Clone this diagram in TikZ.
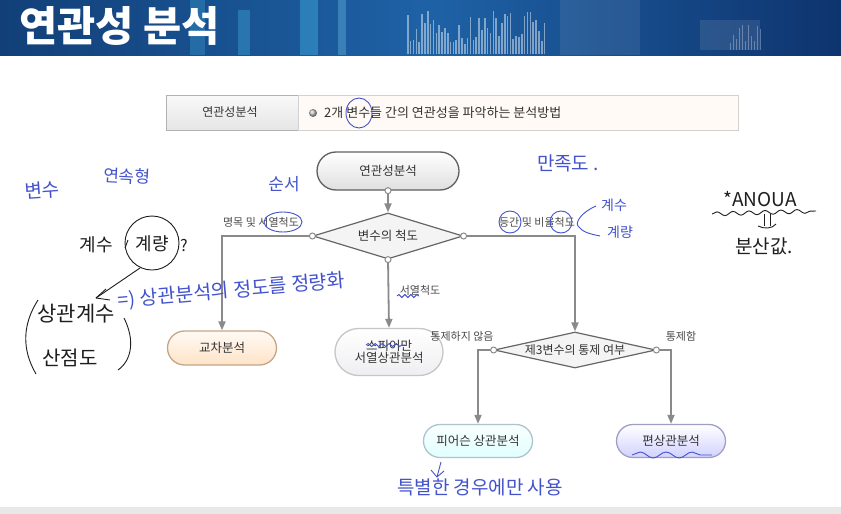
\documentclass[tikz,border=0pt]{standalone}
\usepackage{fontspec}
\setmainfont{Noto Sans CJK KR}
\newfontfamily\kr{Noto Sans CJK KR}
\usetikzlibrary{shapes.geometric,shapes.misc,arrows.meta,calc,decorations.pathmorphing}
\definecolor{banA}{HTML}{123F78}
\definecolor{banB}{HTML}{1E62A6}
\definecolor{banC}{HTML}{0E346E}
\definecolor{lgray}{HTML}{8A8A8C}
\definecolor{pen}{HTML}{4353CC}
\definecolor{ink}{HTML}{1E1E1E}
\tikzset{
  pill/.style={rounded rectangle, draw=#1, line width=1.3pt, inner sep=2pt, font=\kr\fontsize{12.5}{14}\selectfont, text=black!80},
  diam/.style={diamond, draw=gray!80!black, line width=1.2pt, fill=gray!9, inner sep=1pt, font=\kr\fontsize{12.5}{14}\selectfont, text=black!80},
  conn/.style={draw=lgray, line width=1.8pt, -{Triangle[length=9pt,width=7pt]}},
  dot/.style={circle, draw=lgray, fill=white, line width=1pt, inner sep=0pt, minimum size=6pt},
  lbl/.style={font=\kr\fontsize{11}{12}\selectfont, text=black!70, inner sep=1pt},
  blue/.style={text=pen, font=\kr\fontsize{#1}{#1}\selectfont, inner sep=0pt},
  blk/.style={text=ink, font=\kr\fontsize{#1}{#1}\selectfont, inner sep=0pt},
  bpen/.style={draw=pen, line width=0.9pt},
  kpen/.style={draw=ink, line width=0.9pt}
}
\begin{document}
\begin{tikzpicture}[x=1pt,y=-1pt]
\useasboundingbox (0,0) rectangle (841,514);
\fill[white] (0,0) rectangle (841,514);
% banner
\shade[left color=banA, right color=banB] (0,0) rectangle (430,55);
\shade[left color=banB, right color=banC] (430,0) rectangle (841,55);
\fill[cyan!70!white, opacity=.25] (190,0) rectangle (205,55);
\fill[cyan!70!white, opacity=.3] (238,10) rectangle (250,55);
\fill[cyan!70!white, opacity=.35] (300,0) rectangle (318,55);
\fill[cyan!50!white, opacity=.3] (338,0) rectangle (346,55);
\fill[white, opacity=.08] (560,0) rectangle (640,55);
\fill[white, opacity=.1] (700,20) rectangle (760,50);
\pgfmathsetseed{7}
\foreach \i in {0,...,48} {
  \pgfmathsetmacro\h{8+36*rnd}
  \fill[white, opacity=.45] (407+2.85*\i,54) rectangle ++(1.6,-\h);
}
\foreach \i in {0,...,10} {
  \pgfmathsetmacro\h{6+20*rnd}
  \fill[white, opacity=.3] (730+3*\i,50) rectangle ++(1,-\h);
}
\node[anchor=west, text=white, font=\kr\bfseries\fontsize{41.5}{44}\selectfont, inner sep=0pt] (title) at (19,26) {연관성 분석};
% bottom strip
\fill[gray!18] (0,507) rectangle (841,514);
% definition box
\shade[top color=gray!5, bottom color=gray!20, draw=gray!60, line width=1pt] (166,95) rectangle (298,130);
\fill[orange!4!white, draw=gray!35, line width=0.8pt] (298,95) rectangle (738,130);
\node[font=\kr\fontsize{12}{14}\selectfont, text=black!80] (defkey) at (230,112.5) {연관성분석};
\shade[ball color=gray!50] (313,113) circle (4);
\node[anchor=west, font=\kr\fontsize{13}{15}\selectfont, text=black!80, inner sep=0pt] (deftext) at (324,113) {2개 변수들 간의 연관성을 파악하는 분석방법};
% flow nodes
\node[pill=gray!75!black, top color=white, bottom color=gray!25, minimum width=146, minimum height=38] (start) at (388,171) {연관성분석};
\node[diam, aspect=3.3, minimum width=150, minimum height=46] (scale) at (388,236) {변수의 척도};
\node[pill=orange!35!gray!70, top color=orange!4!white, bottom color=orange!22!white, minimum width=113, minimum height=34] (cross) at (222,348) {교차분석};
\node[pill=gray!45, top color=white, bottom color=blue!8!gray!12, minimum width=112, minimum height=47, align=center] (spear) at (389,352) {스피어만\\[-2pt]서열상관분석};
\node[diam, aspect=4.6, minimum width=152, minimum height=36, font=\kr\fontsize{12}{13}\selectfont] (third) at (575,350) {제3변수의 통제 여부};
\node[pill=cyan!30!gray!60, top color=cyan!2!white, bottom color=cyan!12!white, minimum width=113, minimum height=33] (pear) at (478,441) {피어슨 상관분석};
\node[pill=blue!25!gray!60, top color=white, bottom color=blue!18!white, minimum width=113, minimum height=33] (partial) at (671,441) {편상관분석};
% connectors
\draw[conn] (start.south) -- (scale.north);
\draw[conn] (scale.west) -| (cross.north);
\draw[conn] (scale.east) -| (third.north);
\draw[conn] (scale.south) -- (spear.north);
\draw[conn] (third.west) -| (pear.north);
\draw[conn] (third.east) -| (partial.north);
\node[dot] (d1) at (start.south) {};
\node[dot] (d2) at (scale.west) {};
\node[dot] (d3) at (scale.east) {};
\node[dot] (d4) at (scale.south) {};
\node[dot] (d5) at (third.west) {};
\node[dot] (d6) at (third.east) {};
% labels
\node[lbl] (l1) at (261,222) {명목 및 서열척도};
\node[lbl] (l2) at (537,222) {등간 및 비율척도};
\node[lbl] (l3) at (420,290) {서열척도};
\node[lbl] (l4) at (462,336) {통제하지 않음};
\node[lbl] (l5) at (681,336) {통제함};
% blue handwriting
\draw[bpen] (359,113) ellipse (13 and 15);
\node[blue=19, rotate=4] (h1) at (42,190) {변수};
\node[blue=17, rotate=-3] (h2) at (127,176) {연속형};
\node[blue=19] (h3) at (568,163) {만족도 .};
\node[blue=17] (h4) at (284,184) {순서};
\draw[bpen] (283,222) ellipse (19 and 10);
\draw[bpen] (510,222) circle (11);
\draw[bpen] (561,222) circle (11);
\draw[bpen] (596,206) .. controls (582,212) and (575,222) .. (578,226) .. controls (582,232) and (590,234) .. (600,236);
\node[blue=14] (h5) at (614,205) {계수};
\node[blue=14] (h6) at (620,232) {계량};
\node[blue=19.5, rotate=5, anchor=west] (h7) at (118,301) {=) 상관분석의 정도를 정량화};
\draw[bpen, decorate, decoration={snake, amplitude=1.5pt, segment length=6pt}] (397,296) -- (419,296);
\draw[bpen, decorate, decoration={snake, amplitude=1.5pt, segment length=7pt}] (366,345) -- (405,345);
\draw[bpen, decorate, decoration={snake, amplitude=3pt, segment length=26pt}] (632,455) -- (712,455);
\draw[bpen] (441,462) -- (437,477);
\draw[bpen] (431,470) -- (437,477) -- (444,471);
\node[blue=19] (h8) at (480,487) {특별한 경우에만 사용};
% black handwriting
\node[blk=18] (k1) at (96,245) {계수};
\draw[kpen] (152,243) circle (27);
\node[blk=18] (k2) at (152,244) {계량};
\node[blk=16] (k3) at (184,246) {?};
\draw[kpen] (125,248) -- (128,240);
\draw[kpen] (140,268) -- (96,298);
\draw[kpen] (96,298) -- (106,289);
\draw[kpen] (96,298) -- (110,300);
\node[blk=21] (k4) at (76,314) {상관계수};
\node[blk=20] (k5) at (70,358) {산점도};
\draw[kpen] (38,300) .. controls (22,325) and (22,350) .. (36,374);
\draw[kpen] (124,318) .. controls (135,340) and (132,360) .. (118,370);
\node[blk=19] (k6) at (760,199) {*ANOUA};
\draw[kpen, decorate, decoration={snake, amplitude=2pt, segment length=16pt}] (712,214) -- (816,211);
\draw[kpen] (764,214) -- (764,226);
\draw[kpen] (770,214) -- (770,226);
\draw[kpen] (758,226) .. controls (764,229) and (772,229) .. (776,224);
\node[blk=19] (k7) at (764,246) {분산값.};
\end{tikzpicture}
\end{document}
